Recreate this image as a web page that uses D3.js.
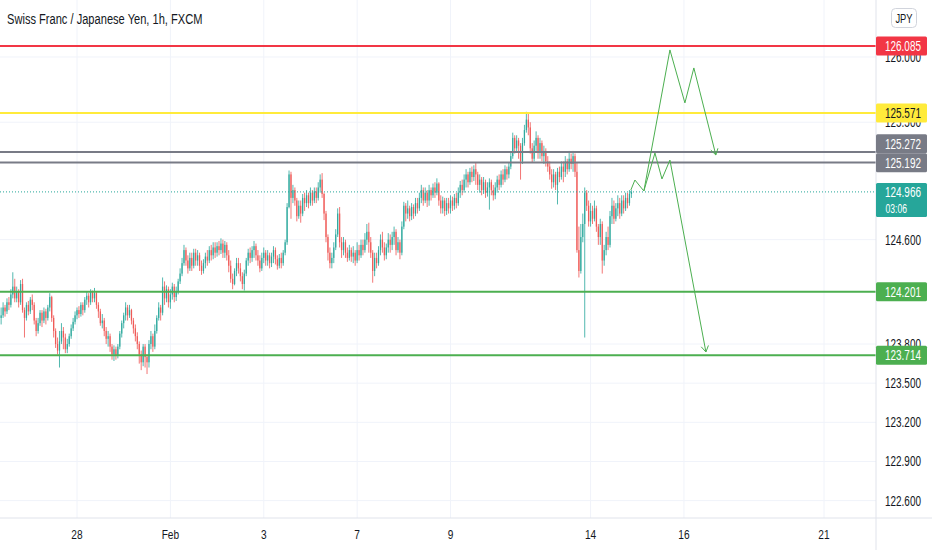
<!DOCTYPE html>
<html>
<head>
<meta charset="utf-8">
<script src="https://cdn.jsdelivr.net/npm/d3@7"></script>
<style>
  body { margin: 0; background: #fff; }
  svg { display: block; font-family: "Liberation Sans", Arial, sans-serif; }
</style>
</head>
<body>
<svg id="chart" width="932" height="550"></svg>
<script>
// CHF/JPY hourly bars (open = previous close)
const firstOpen = 124.00;
const barClose = [
  124.02,124.08,124.05,124.12,124.10,124.18,124.24,124.15,124.20,124.12,
  124.26,124.06,124.00,124.10,124.05,124.14,124.10,123.98,123.90,123.96,
  124.04,123.98,124.05,124.00,124.08,124.16,124.00,123.90,123.80,123.75,
  123.82,123.90,123.85,123.76,123.80,123.86,123.92,123.97,124.02,124.06,
  124.03,124.10,124.06,124.14,124.17,124.12,124.20,124.15,124.19,124.10,
  124.05,123.96,123.98,123.90,123.84,123.86,123.78,123.72,123.76,123.71,
  123.78,123.88,123.96,124.02,124.08,124.02,124.06,123.98,123.92,123.86,
  123.80,123.72,123.66,123.78,123.70,123.66,123.80,123.86,123.78,123.90,
  124.00,124.08,124.04,124.24,124.15,124.22,124.12,124.18,124.24,124.16,
  124.20,124.28,124.34,124.42,124.52,124.44,124.38,124.46,124.40,124.50,
  124.44,124.48,124.40,124.36,124.42,124.47,124.44,124.52,124.48,124.54,
  124.50,124.55,124.52,124.57,124.50,124.56,124.48,124.40,124.30,124.26,
  124.36,124.42,124.38,124.32,124.26,124.34,124.44,124.50,124.46,124.52,
  124.55,124.48,124.44,124.38,124.46,124.50,124.44,124.48,124.42,124.47,
  124.52,124.45,124.40,124.46,124.42,124.50,124.58,124.85,125.10,124.92,
  124.98,124.90,124.78,124.86,124.80,124.92,124.88,124.94,124.88,124.96,
  124.90,124.97,124.92,125.00,125.06,124.95,124.80,124.62,124.50,124.42,
  124.46,124.54,124.64,124.80,124.58,124.52,124.58,124.50,124.46,124.52,
  124.47,124.50,124.44,124.52,124.48,124.56,124.52,124.60,124.66,124.58,
  124.50,124.36,124.46,124.42,124.52,124.60,124.54,124.48,124.54,124.60,
  124.56,124.62,124.66,124.52,124.58,124.50,124.70,124.86,124.80,124.84,
  124.78,124.85,124.80,124.88,124.84,124.92,124.98,124.90,124.96,124.90,
  124.98,124.94,125.00,124.96,125.03,124.90,124.84,124.90,124.82,124.88,
  124.84,124.90,124.86,124.92,124.88,124.96,125.02,124.98,125.06,125.10,
  125.04,125.12,125.08,125.14,125.10,125.02,125.06,124.98,125.04,124.96,
  125.00,125.04,124.98,124.94,125.00,125.06,125.02,125.10,125.06,125.14,
  125.10,125.16,125.24,125.38,125.30,125.36,125.32,125.20,125.34,125.44,
  125.52,125.46,125.30,125.22,125.32,125.38,125.28,125.34,125.24,125.28,
  125.20,125.16,125.10,125.04,125.10,125.02,125.12,125.08,125.16,125.12,
  125.20,125.14,125.22,125.18,125.24,125.12,124.52,124.36,124.62,124.72,
  124.96,124.86,124.74,124.82,124.76,124.84,124.70,124.62,124.72,124.44,
  124.52,124.62,124.56,124.78,124.86,124.76,124.84,124.88,124.80,124.90,
  124.84,124.92,124.88,124.95,124.966
];
const barHigh = [
  124.08,124.12,124.10,124.15,124.16,124.22,124.35,124.30,124.24,124.22,
  124.29,124.30,124.08,124.12,124.13,124.16,124.18,124.12,124.00,124.00,
  124.06,124.06,124.08,124.07,124.10,124.19,124.17,124.02,123.92,123.85,
  123.90,123.96,123.93,123.88,123.84,123.88,123.95,124.00,124.05,124.08,
  124.09,124.12,124.12,124.16,124.20,124.19,124.22,124.21,124.23,124.20,
  124.12,124.07,124.03,124.00,123.93,123.90,123.88,123.80,123.79,123.78,
  123.80,123.90,123.98,124.04,124.12,124.10,124.10,124.07,124.00,123.95,
  123.89,123.82,123.75,123.80,123.80,123.72,123.83,123.90,123.88,123.95,
  124.02,124.12,124.10,124.31,124.28,124.25,124.24,124.22,124.27,124.26,
  124.24,124.30,124.38,124.46,124.56,124.54,124.48,124.50,124.50,124.53,
  124.53,124.52,124.50,124.44,124.45,124.50,124.52,124.55,124.56,124.58,
  124.58,124.58,124.59,124.61,124.60,124.59,124.58,124.52,124.44,124.34,
  124.38,124.46,124.46,124.42,124.35,124.37,124.46,124.53,124.54,124.55,
  124.59,124.57,124.52,124.48,124.50,124.54,124.52,124.52,124.50,124.50,
  124.55,124.54,124.48,124.49,124.50,124.52,124.60,124.88,125.13,125.12,
  125.02,125.00,124.92,124.90,124.90,124.95,124.96,124.98,124.96,125.00,
  124.98,125.00,125.00,125.04,125.10,125.11,124.96,124.82,124.64,124.54,
  124.50,124.58,124.68,124.84,124.85,124.62,124.62,124.60,124.54,124.56,
  124.54,124.55,124.52,124.58,124.56,124.60,124.60,124.65,124.72,124.73,
  124.62,124.52,124.50,124.50,124.55,124.64,124.66,124.58,124.57,124.65,
  124.64,124.66,124.70,124.68,124.62,124.60,124.74,124.89,124.88,124.90,
  124.86,124.88,124.87,124.92,124.92,124.96,125.02,125.00,125.00,124.98,
  125.02,125.00,125.03,125.04,125.07,125.04,124.94,124.93,124.92,124.92,
  124.92,124.94,124.93,124.95,124.96,125.00,125.05,125.06,125.10,125.14,
  125.12,125.15,125.16,125.17,125.19,125.12,125.10,125.08,125.08,125.06,
  125.04,125.07,125.06,125.02,125.04,125.09,125.10,125.13,125.14,125.17,
  125.16,125.19,125.27,125.42,125.40,125.40,125.38,125.34,125.38,125.48,
  125.58,125.57,125.50,125.34,125.36,125.43,125.40,125.38,125.36,125.32,
  125.30,125.24,125.20,125.14,125.14,125.12,125.15,125.16,125.20,125.20,
  125.24,125.22,125.28,125.26,125.28,125.26,125.19,124.70,124.72,124.80,
  125.00,124.98,124.90,124.88,124.86,124.90,124.86,124.72,124.76,124.74,
  124.56,124.66,124.70,124.82,124.92,124.90,124.88,124.94,124.92,124.94,
  124.94,124.96,124.96,124.98,124.98
];
const barLow = [
  123.95,124.00,124.01,124.03,124.06,124.08,124.15,124.12,124.12,124.08,
  124.10,124.04,123.85,123.98,124.02,124.03,124.06,123.95,123.86,123.88,
  123.94,123.93,123.96,123.95,123.98,124.05,123.97,123.85,123.77,123.72,
  123.62,123.80,123.76,123.73,123.73,123.78,123.84,123.90,123.95,123.99,
  124.00,124.01,124.02,124.04,124.10,124.08,124.10,124.12,124.12,124.07,
  124.00,123.94,123.92,123.86,123.80,123.78,123.74,123.68,123.67,123.68,
  123.69,123.76,123.85,123.92,123.98,123.98,124.00,123.95,123.88,123.82,
  123.76,123.65,123.60,123.63,123.62,123.57,123.62,123.76,123.74,123.76,
  123.88,123.98,123.98,124.02,124.10,124.12,124.08,124.07,124.14,124.12,
  124.13,124.18,124.26,124.32,124.40,124.40,124.34,124.36,124.36,124.38,
  124.40,124.40,124.36,124.33,124.34,124.38,124.40,124.42,124.44,124.45,
  124.46,124.47,124.48,124.49,124.46,124.46,124.44,124.35,124.27,124.22,
  124.25,124.32,124.34,124.28,124.22,124.21,124.32,124.40,124.42,124.43,
  124.46,124.44,124.40,124.35,124.36,124.42,124.40,124.40,124.38,124.39,
  124.42,124.41,124.37,124.38,124.38,124.40,124.48,124.56,124.84,124.76,
  124.88,124.86,124.74,124.76,124.73,124.78,124.82,124.85,124.84,124.86,
  124.86,124.88,124.88,124.90,124.96,124.92,124.75,124.58,124.44,124.38,
  124.38,124.42,124.52,124.62,124.54,124.46,124.48,124.46,124.43,124.44,
  124.43,124.42,124.40,124.42,124.44,124.46,124.48,124.50,124.56,124.50,
  124.46,124.27,124.32,124.38,124.40,124.48,124.50,124.44,124.45,124.50,
  124.50,124.52,124.56,124.48,124.50,124.45,124.48,124.68,124.74,124.76,
  124.74,124.75,124.76,124.78,124.80,124.82,124.88,124.86,124.88,124.85,
  124.86,124.90,124.92,124.92,124.94,124.86,124.80,124.80,124.78,124.79,
  124.80,124.80,124.82,124.83,124.84,124.86,124.92,124.94,124.96,125.00,
  125.00,125.02,125.04,125.05,125.02,124.98,124.96,124.94,124.95,124.92,
  124.93,124.83,124.94,124.90,124.91,124.96,124.98,125.00,125.02,125.04,
  125.06,125.07,125.14,125.22,125.26,125.27,125.22,125.06,125.18,125.32,
  125.42,125.40,125.26,125.19,125.20,125.28,125.22,125.22,125.20,125.18,
  125.16,125.12,125.06,124.99,125.00,124.98,124.87,125.04,125.06,125.04,
  125.08,125.10,125.12,125.14,125.12,125.08,124.50,124.31,124.34,124.58,
  123.85,124.82,124.70,124.70,124.72,124.74,124.66,124.56,124.56,124.34,
  124.40,124.48,124.52,124.54,124.72,124.72,124.74,124.78,124.76,124.78,
  124.80,124.82,124.84,124.86,124.92
];

// time axis: bar index of the first bar of each labelled day
const dateLabels = ["28", "Feb", "3", "7", "9", "14", "16", "21"];
const dateBars = [39, 87, 135, 183, 231, 303, 351, 423];

// price axis ticks that show in the picture
const priceTicks = [126.0, 125.5, 124.6, 123.8, 123.5, 123.2, 122.9, 122.6];

// horizontal levels drawn on the chart
const levelPrices = [126.085, 125.571, 125.272, 125.192, 124.201, 123.714];
const levelKinds = ["red", "yellow", "gray", "gray", "green", "green"];

// hand-drawn projection paths (bar index, price)
const upperPathBars = [323.7, 325.8, 330.4, 343.8, 351.5, 356.1, 367.4];
const upperPathPrices = [124.98, 125.057, 124.973, 126.054, 125.648, 125.916, 125.249];
const lowerPathBars = [330.4, 336.1, 339.7, 343.8, 362.3];
const lowerPathPrices = [124.973, 125.264, 125.065, 125.210, 123.739];

const countdown = "03:06";

// ---- styles ----
const kindStyle = {
  red: { line: "#f23645", box: "#f23645", text: "#ffffff" },
  yellow: { line: "#ffeb3b", box: "#ffeb3b", text: "#131722" },
  gray: { line: "#787b86", box: "#787b86", text: "#ffffff" },
  green: { line: "#4caf50", box: "#4caf50", text: "#ffffff" }
};
const upColor = "#26a69a", downColor = "#ef5350";
const textColor = "#131722";
const squeeze = 0.71;   // the picture's text is narrow

const W = 932, H = 550;
const axisX = 876, axisY = 518;

const svg = d3.select("#chart");

const x = d3.scaleLinear().domain([39, 423]).range([77, 824]);
const y = d3.scaleLinear().domain([122.6, 126.085]).range([500.6, 45.9]);

// narrow text: draw at the origin and squeeze it with a transform
function narrowText(parent, tx, ty, str, size, ratio, anchor, fill) {
  return parent.append("text")
    .attr("transform", `translate(${tx},${ty}) scale(${ratio},1)`)
    .attr("text-anchor", anchor)
    .attr("font-size", size)
    .attr("fill", fill)
    .text(str);
}

// grid
svg.append("g").selectAll("line")
  .data(dateBars).enter().append("line")
  .attr("x1", d => x(d)).attr("x2", d => x(d))
  .attr("y1", 0).attr("y2", axisY)
  .attr("stroke", "#f0f3fa").attr("stroke-width", 1);

svg.append("g").selectAll("line")
  .data(priceTicks).enter().append("line")
  .attr("x1", 0).attr("x2", axisX)
  .attr("y1", d => y(d)).attr("y2", d => y(d))
  .attr("stroke", "#f0f3fa").attr("stroke-width", 1);

// candles
const candles = barClose.map((c, i) => {
  const o = i ? barClose[i - 1] : firstOpen;
  return { i, o, c, h: Math.max(barHigh[i], o, c), l: Math.min(barLow[i], o, c) };
});

const cg = svg.append("g");
cg.selectAll("line")
  .data(candles).enter().append("line")
  .attr("x1", d => x(d.i)).attr("x2", d => x(d.i))
  .attr("y1", d => y(d.h)).attr("y2", d => y(d.l))
  .attr("stroke", d => d.c >= d.o ? upColor : downColor)
  .attr("stroke-width", 0.8);

cg.selectAll("rect")
  .data(candles).enter().append("rect")
  .attr("x", d => x(d.i) - 0.65)
  .attr("width", 1.3)
  .attr("y", d => y(Math.max(d.o, d.c)))
  .attr("height", d => Math.max(0.8, Math.abs(y(d.o) - y(d.c))))
  .attr("fill", d => d.c >= d.o ? upColor : downColor)
  .attr("fill-opacity", 0.85);

// level lines
svg.append("g").selectAll("line")
  .data(levelPrices).enter().append("line")
  .attr("x1", 0).attr("x2", axisX)
  .attr("y1", d => y(d)).attr("y2", d => y(d))
  .attr("stroke", (d, i) => kindStyle[levelKinds[i]].line)
  .attr("stroke-width", 2);

// current price dotted line
const lastPrice = barClose[barClose.length - 1];
svg.append("line")
  .attr("x1", 0).attr("x2", axisX)
  .attr("y1", y(lastPrice)).attr("y2", y(lastPrice))
  .attr("stroke", upColor).attr("stroke-width", 1)
  .attr("stroke-dasharray", "1,2");

// projection paths with open arrowheads
const line = d3.line().x(d => x(d[0])).y(d => y(d[1]));
function drawArrowPath(bars, prices) {
  const pts = bars.map((b, i) => [b, prices[i]]);
  svg.append("path")
    .attr("d", line(pts))
    .attr("fill", "none")
    .attr("stroke", "#4caf50")
    .attr("stroke-width", 1);
  const a = pts[pts.length - 2], b = pts[pts.length - 1];
  const ang = Math.atan2(y(b[1]) - y(a[1]), x(b[0]) - x(a[0]));
  const ex = x(b[0]), ey = y(b[1]), len = 7;
  [-0.55, 0.55].forEach(off => {
    svg.append("line")
      .attr("x1", ex).attr("y1", ey)
      .attr("x2", ex - len * Math.cos(ang + off))
      .attr("y2", ey - len * Math.sin(ang + off))
      .attr("stroke", "#4caf50").attr("stroke-width", 1);
  });
}
drawArrowPath(upperPathBars, upperPathPrices);
drawArrowPath(lowerPathBars, lowerPathPrices);

// axis borders
svg.append("line").attr("x1", axisX).attr("x2", axisX).attr("y1", 0).attr("y2", H)
  .attr("stroke", "#e0e3eb");
svg.append("line").attr("x1", 0).attr("x2", W).attr("y1", axisY).attr("y2", axisY)
  .attr("stroke", "#e0e3eb");

// price tick labels
const tickG = svg.append("g");
priceTicks.forEach(v => {
  narrowText(tickG, 903, y(v) + 5, d3.format(".3f")(v), 14, squeeze, "middle", textColor);
});

// date labels
const dateG = svg.append("g");
dateBars.forEach((b, i) => {
  narrowText(dateG, x(b), 539, dateLabels[i], 13, 0.78, "middle", textColor);
});

// price label boxes on the axis
const boxH = 19;
const labels = levelPrices.map((p, i) => ({ p, kind: levelKinds[i], cy: y(p) }));
labels.sort((a, b) => a.cy - b.cy);
for (let i = 1; i < labels.length; i++) {
  const a = labels[i - 1], b = labels[i];
  if (b.cy - a.cy < boxH) {
    const m = (a.cy + b.cy) / 2 - 4;
    a.cy = m - boxH / 2; b.cy = m + boxH / 2;
  }
}
const lg = svg.append("g");
labels.forEach(d => {
  const st = kindStyle[d.kind];
  lg.append("rect")
    .attr("x", axisX).attr("y", d.cy - boxH / 2)
    .attr("width", 51).attr("height", boxH)
    .attr("rx", 1.5)
    .attr("fill", st.box);
  narrowText(lg, 903, d.cy + 5, d3.format(".3f")(d.p), 14, squeeze, "middle", st.text);
});

// last price label with countdown
const ly = y(lastPrice);
lg.append("rect")
  .attr("x", axisX).attr("y", ly - 9)
  .attr("width", 51).attr("height", 34)
  .attr("rx", 1.5)
  .attr("fill", upColor);
narrowText(lg, 903, ly + 5, d3.format(".3f")(lastPrice), 14, squeeze, "middle", "#ffffff");
narrowText(lg, 885.5, ly + 21, countdown, 13, 0.66, "start", "#ffffff");

// currency button
svg.append("rect")
  .attr("x", 891.5).attr("y", 8.5).attr("width", 25).attr("height", 19)
  .attr("rx", 4)
  .attr("fill", "#fff").attr("stroke", "#d1d4dc");
narrowText(svg, 904, 22.5, "JPY", 13, 0.72, "middle", textColor);

// title
narrowText(svg, 7, 24, "Swiss Franc / Japanese Yen, 1h, FXCM", 15, 0.74, "start", textColor);
</script>
</body>
</html>
